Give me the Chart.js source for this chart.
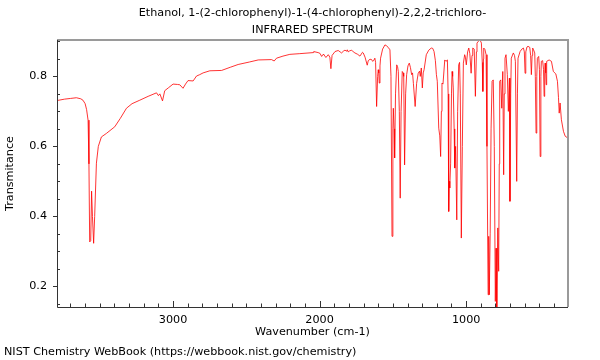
<!DOCTYPE html>
<html><head><meta charset="utf-8">
<script src="https://cdn.jsdelivr.net/npm/chart.js@4/dist/chart.umd.min.js"></script>
<style>html,body{margin:0;padding:0;background:#fff}#wrap{width:600px;height:360px;position:relative}</style>
</head><body><div id="wrap"><canvas id="c" width="600" height="360"></canvas></div>
<script>
const titleLines = ['Ethanol, 1-(2-chlorophenyl)-1-(4-chlorophenyl)-2,2,2-trichloro-', 'INFRARED SPECTRUM'];
const xAxisTitle = 'Wavenumber (cm-1)';
const yAxisTitle = 'Transmitance';
const footerText = 'NIST Chemistry WebBook (https://webbook.nist.gov/chemistry)';
const xTickValues = [1000, 2000, 3000];
const yTickValues = [0.2, 0.4, 0.6, 0.8];
const xRange = [305, 3792];
const yRange = [0.141, 0.904];

const wavenumbers = [3792,3740,3700,3660,3630,3615,3600,3590,3580,3574,3569,3562,3556,3550,3542,3535,3523,3510,3489,3455,3398,3360,3318,3280,3227,3170,3113,3100,3090,3072,3057,3030,3000,2970,2954,2932,2915,2898,2863,2840,2818,2795,2749,2669,2610,2556,2480,2419,2328,2310,2294,2250,2203,2135,2044,2040,2010,1998,1986,1976,1971,1957,1941,1930,1923,1915,1902,1895,1873,1860,1850,1838,1827,1815,1811,1805,1795,1781,1770,1759,1740,1725,1715,1707,1702,1690,1675,1668,1656,1645,1638,1630,1623,1618,1611,1604,1600,1596,1593,1588,1584,1570,1554,1545,1532,1520,1513,1506,1500,1497,1492,1488,1482,1474,1468,1463,1456,1450,1444,1436,1430,1426,1420,1413,1406,1397,1388,1380,1372,1366,1360,1348,1338,1327,1318,1313,1306,1299,1293,1287,1272,1255,1238,1228,1219,1210,1203,1197,1187,1180,1174,1169,1165,1158,1146,1138,1128,1123,1119,1115,1112,1106,1100,1096,1092,1088,1082,1078,1072,1064,1058,1051,1045,1040,1033,1026,1019,1010,1005,999,990,982,975,966,960,955,945,937,930,926,918,910,900,896,890,886,882,880,872,864,858,850,846,842,836,830,823,815,808,801,796,791,784,778,774,771,764,757,750,744,740,735,728,719,712,705,701,696,692,678,670,664,655,650,646,632,620,609,603,598,593,585,578,566,560,555,550,546,540,532,528,523,518,514,505,500,495,490,487,478,472,468,464,461,457,454,451,450,434,418,405,388,377,370,365,359,350,336,324,310];
const transmittance = [0.731,0.735,0.737,0.739,0.736,0.732,0.722,0.705,0.675,0.55,0.327,0.33,0.472,0.40,0.323,0.40,0.552,0.60,0.627,0.637,0.656,0.68,0.709,0.722,0.732,0.743,0.753,0.745,0.750,0.730,0.759,0.768,0.778,0.777,0.776,0.766,0.778,0.788,0.787,0.801,0.805,0.810,0.816,0.817,0.826,0.834,0.841,0.847,0.848,0.844,0.852,0.858,0.863,0.865,0.868,0.871,0.868,0.866,0.857,0.863,0.862,0.854,0.862,0.855,0.822,0.86,0.867,0.871,0.874,0.870,0.867,0.872,0.875,0.872,0.876,0.870,0.873,0.875,0.870,0.867,0.863,0.858,0.864,0.869,0.867,0.855,0.832,0.845,0.849,0.848,0.843,0.846,0.852,0.84,0.714,0.80,0.819,0.81,0.781,0.83,0.852,0.878,0.890,0.888,0.883,0.876,0.8,0.343,0.65,0.709,0.65,0.567,0.75,0.833,0.828,0.814,0.7,0.452,0.70,0.814,0.810,0.80,0.547,0.75,0.805,0.830,0.838,0.825,0.805,0.81,0.78,0.714,0.78,0.809,0.815,0.80,0.824,0.767,0.81,0.819,0.862,0.875,0.881,0.880,0.871,0.845,0.805,0.786,0.652,0.63,0.571,0.70,0.781,0.778,0.847,0.843,0.847,0.75,0.414,0.50,0.481,0.55,0.75,0.814,0.80,0.767,0.65,0.538,0.60,0.390,0.70,0.833,0.840,0.75,0.338,0.6,0.838,0.862,0.855,0.833,0.87,0.881,0.865,0.809,0.86,0.881,0.878,0.743,0.87,0.895,0.90,0.903,0.90,0.895,0.84,0.757,0.85,0.881,0.877,0.862,0.6,0.176,0.343,0.176,0.35,0.65,0.786,0.790,0.60,0.157,0.309,0.14,0.367,0.243,0.55,0.786,0.790,0.709,0.814,0.519,0.75,0.852,0.862,0.805,0.700,0.795,0.443,0.75,0.852,0.867,0.860,0.843,0.500,0.75,0.852,0.871,0.878,0.881,0.87,0.809,0.87,0.884,0.886,0.883,0.86,0.805,0.86,0.881,0.876,0.867,0.80,0.638,0.80,0.852,0.857,0.82,0.571,0.80,0.843,0.845,0.82,0.743,0.81,0.838,0.81,0.776,0.83,0.843,0.847,0.843,0.814,0.807,0.786,0.74,0.695,0.724,0.676,0.643,0.629,0.625];

const FONT = '"DejaVu Sans", sans-serif';
const TEXT_SIZE = 11.2;

const decorPlugin = {
  id: 'decor',
  afterDraw(chart) {
    const {ctx, chartArea: a, scales: {x, y}} = chart;
    ctx.save();
    ctx.strokeStyle = '#9a9a9a'; ctx.lineWidth = 2;
    ctx.beginPath(); ctx.moveTo(a.left, a.top); ctx.lineTo(a.right, a.top); ctx.lineTo(a.right, a.bottom); ctx.stroke();
    ctx.strokeStyle = '#333'; ctx.lineWidth = 1;
    ctx.beginPath();
    ctx.moveTo(a.left + 0.5, a.top); ctx.lineTo(a.left + 0.5, a.bottom + 0.5); ctx.lineTo(a.right, a.bottom + 0.5);
    for (let v = Math.ceil(x.min / 100) * 100; v <= x.max; v += 100) {
      const px = Math.round(x.getPixelForValue(v)) + 0.5;
      const len = (v % 1000 === 0) ? 6 : 3.5;
      ctx.moveTo(px, a.bottom); ctx.lineTo(px, a.bottom - len);
    }
    for (let k = Math.ceil(y.min * 20); k <= Math.floor(y.max * 20); k++) {
      const v = k / 20;
      const py = Math.round(y.getPixelForValue(v)) + 0.5;
      if (k % 4 === 0) { ctx.moveTo(a.left - 4, py); ctx.lineTo(a.left, py); }
      else { ctx.moveTo(a.left, py); ctx.lineTo(a.left + 3, py); }
    }
    ctx.stroke();
    ctx.fillStyle = '#000';
    ctx.font = TEXT_SIZE + 'px ' + FONT;
    ctx.textAlign = 'center'; ctx.textBaseline = 'middle';
    const cx = (a.left + a.right) / 2;
    ctx.fillText(titleLines[0], cx, 13);
    ctx.fillText(titleLines[1], cx, 30);
    ctx.fillText(xAxisTitle, cx, 332);
    ctx.textAlign = 'left';
    ctx.fillText(footerText, 4, 352);
    ctx.save();
    ctx.translate(10, (a.top + a.bottom) / 2);
    ctx.rotate(-Math.PI / 2);
    ctx.textAlign = 'center';
    ctx.fillText(yAxisTitle, 0, 0);
    ctx.restore();
    ctx.restore();
  }
};

new Chart(document.getElementById('c'), {
  type: 'line',
  data: {
    datasets: [{
      data: wavenumbers.map((w, i) => ({x: w, y: transmittance[i]})),
      borderColor: 'rgba(255,0,0,0.8)',
      borderWidth: 1,
      pointRadius: 0,
      tension: 0,
      fill: false
    }]
  },
  options: {
    responsive: false,
    devicePixelRatio: 1,
    animation: false,
    layout: {padding: {left: 0, right: 32, top: 40, bottom: 0}},
    plugins: {legend: {display: false}, tooltip: {enabled: false}, title: {display: false}},
    scales: {
      x: {
        type: 'linear', reverse: true, min: xRange[0], max: xRange[1],
        afterBuildTicks: s => { s.ticks = xTickValues.map(v => ({value: v})); },
        afterFit: s => { s.height = 53; },
        grid: {display: false, drawTicks: false},
        border: {display: false},
        ticks: {color: '#000', font: {family: FONT, size: 11.2}, padding: 6, maxRotation: 0, callback: v => String(v)}
      },
      y: {
        type: 'linear', min: yRange[0], max: yRange[1],
        afterBuildTicks: s => { s.ticks = yTickValues.map(v => ({value: v})); },
        afterFit: s => { s.width = 57; },
        grid: {display: false, drawTicks: false},
        border: {display: false},
        ticks: {color: '#000', font: {family: FONT, size: 11.2}, padding: 10, callback: v => v.toFixed(1)}
      }
    }
  },
  plugins: [decorPlugin]
});
</script>
</body></html>
